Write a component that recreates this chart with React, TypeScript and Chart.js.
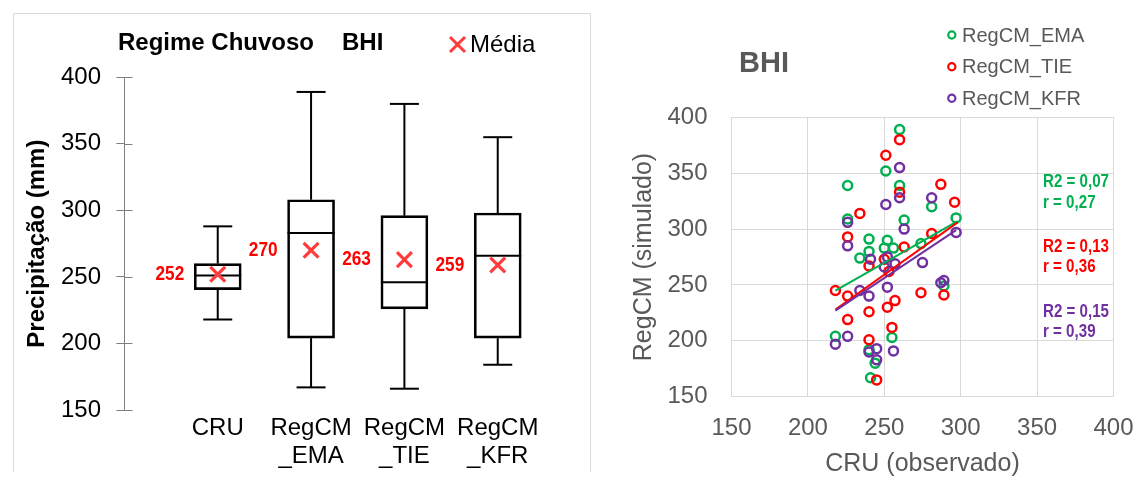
import React, { useEffect, useRef } from "react";
import { Chart, registerables } from "chart.js";

Chart.register(...registerables);

const FONT = "'Liberation Sans', Arial, Helvetica, sans-serif";

// ---------- Left panel: box plot ----------
const boxCategories: string[][] = [["CRU"], ["RegCM", "_EMA"], ["RegCM", "_TIE"], ["RegCM", "_KFR"]];
const boxPositions = [1, 2, 3, 4];
const boxMin = [218, 167, 166, 184];
const boxQ1 = [240.5, 204, 226, 204];
const boxMedian = [251, 283, 246, 266];
const boxQ3 = [260, 308, 296, 298];
const boxMax = [288, 389, 380, 355];
const boxMean = [252, 270, 263, 259];
const boxMeanLabels = ["252", "270", "263", "259"];
const leftTitle = "Regime Chuvoso";
const leftRegion = "BHI";
const leftLegendLabel = "Média";
const leftYTitle = "Precipitação (mm)";

// ---------- Right panel: scatter ----------
const seriesNames = ["RegCM_EMA", "RegCM_TIE", "RegCM_KFR"];
const seriesColors = ["#00B050", "#FF0000", "#7030A0"];

const emaCru = [218, 226, 226, 234, 240, 240, 240, 241, 244, 250, 251, 252, 255, 256, 260, 260, 263, 274, 281, 289, 297];
const emaSim = [204, 339, 309, 274, 291, 280, 192, 167, 180, 283, 352, 290, 203, 283, 389, 339, 308, 287, 320, 249, 310];

const tieCru = [218, 226, 226, 226, 234, 240, 240, 240, 245, 250, 251, 252, 253, 255, 257, 260, 260, 263, 274, 281, 287, 289, 296];
const tieSim = [245, 240, 219, 293, 314, 267, 226, 201, 165, 273, 366, 230, 262, 212, 236, 380, 333, 284, 243, 296, 340, 241, 324];

const kfrCru = [218, 226, 226, 226, 234, 241, 240, 240, 245, 245, 250, 251, 252, 252, 256, 257, 260, 260, 263, 275, 281, 287, 289, 297];
const kfrSim = [197, 306, 285, 204, 245, 273, 240, 190, 193, 183, 266, 322, 275, 248, 191, 269, 355, 328, 300, 270, 328, 252, 254, 297];

const emaTrendX = [218, 298];
const emaTrendY = [245, 307];
const tieTrendX = [218, 298];
const tieTrendY = [228, 306];
const kfrTrendX = [218, 297];
const kfrTrendY = [227, 299];

const statsLines = [
  ["R2 = 0,07", "r = 0,27"],
  ["R2 = 0,13", "r = 0,36"],
  ["R2 = 0,15", "r = 0,39"],
];
const rightTitle = "BHI";
const rightXTitle = "CRU (observado)";
const rightYTitle = "RegCM (simulado)";
const scatterTicks = { min: 150, max: 400, step: 50 };

const toPts = (xs: number[], ys: number[]) => xs.map((x, i) => ({ x, y: ys[i] }));

function drawText(
  ctx: CanvasRenderingContext2D,
  text: string,
  x: number,
  y: number,
  font: string,
  color: string,
  align: CanvasTextAlign,
  sx = 1
) {
  ctx.save();
  ctx.font = font;
  ctx.fillStyle = color;
  ctx.textBaseline = "middle";
  ctx.textAlign = align;
  ctx.translate(x, y);
  ctx.scale(sx, 1);
  ctx.fillText(text, 0, 0);
  ctx.restore();
}

function line(ctx: CanvasRenderingContext2D, x1: number, y1: number, x2: number, y2: number) {
  ctx.beginPath();
  ctx.moveTo(x1, y1);
  ctx.lineTo(x2, y2);
  ctx.stroke();
}

const BOX_HALF = 23.5;
const CAP_HALF = 14.5;
const MEAN_COLOR = "#FF3B3B";

const noPad = (s: any) => {
  s.paddingLeft = 0;
  s.paddingRight = 0;
};

const leftDecor = {
  id: "leftDecor",
  afterDatasetDraw(chart: any, args: any) {
    if (args.index !== 1) return;
    const ctx = chart.ctx as CanvasRenderingContext2D;
    const xs = chart.scales.x;
    const ys = chart.scales.y;
    ctx.save();
    ctx.strokeStyle = "#000";
    ctx.lineWidth = 2;
    boxPositions.forEach((p, i) => {
      const cx = xs.getPixelForValue(p);
      const yMin = ys.getPixelForValue(boxMin[i]);
      const yQ1 = ys.getPixelForValue(boxQ1[i]);
      const yMed = ys.getPixelForValue(boxMedian[i]);
      const yQ3 = ys.getPixelForValue(boxQ3[i]);
      const yMax = ys.getPixelForValue(boxMax[i]);
      line(ctx, cx, yMax, cx, yQ3);
      line(ctx, cx, yQ1, cx, yMin);
      line(ctx, cx - CAP_HALF, yMax, cx + CAP_HALF, yMax);
      line(ctx, cx - CAP_HALF, yMin, cx + CAP_HALF, yMin);
      line(ctx, cx - BOX_HALF, yMed, cx + BOX_HALF, yMed);
    });
    ctx.restore();
  },
  afterDraw(chart: any) {
    const ctx = chart.ctx as CanvasRenderingContext2D;
    const xs = chart.scales.x;
    const ys = chart.scales.y;
    // panel border
    ctx.save();
    ctx.strokeStyle = "#d9d9d9";
    ctx.lineWidth = 1;
    ctx.beginPath();
    ctx.moveTo(13.5, 472);
    ctx.lineTo(13.5, 13.5);
    ctx.lineTo(590.5, 13.5);
    ctx.lineTo(590.5, 472);
    ctx.stroke();
    // right half of crossing tick marks
    ctx.strokeStyle = "#7f7f7f";
    const ax = Math.round(ys.right) + 0.5;
    ys.ticks.forEach((t: any) => {
      const y = Math.round(ys.getPixelForValue(t.value)) + 0.5;
      line(ctx, ax, y, ax + 8, y);
    });
    ctx.restore();
    // mean labels
    boxPositions.forEach((p, i) => {
      const cx = xs.getPixelForValue(p);
      drawText(ctx, boxMeanLabels[i], cx - BOX_HALF - 10, ys.getPixelForValue(boxMean[i]), `bold 21px ${FONT}`, "#FF0000", "right", 0.82);
    });
    // title
    drawText(ctx, leftTitle, 118, 43, `bold 24px ${FONT}`, "#000", "left");
    drawText(ctx, leftRegion, 342, 43, `bold 24px ${FONT}`, "#000", "left");
    // legend
    ctx.save();
    ctx.strokeStyle = MEAN_COLOR;
    ctx.lineWidth = 3;
    const lx = 457.5, ly = 44.5, h = 7.5;
    line(ctx, lx - h, ly - h, lx + h, ly + h);
    line(ctx, lx - h, ly + h, lx + h, ly - h);
    ctx.restore();
    drawText(ctx, leftLegendLabel, 470, 45, `24px ${FONT}`, "#000", "left");
  },
};

const rightDecor = {
  id: "rightDecor",
  afterDraw(chart: any) {
    const ctx = chart.ctx as CanvasRenderingContext2D;
    drawText(ctx, rightTitle, 139, 64, `bold 29px ${FONT}`, "#595959", "left");
    const legendY = [35, 66.7, 98.3];
    seriesNames.forEach((name, i) => {
      ctx.save();
      ctx.strokeStyle = seriesColors[i];
      ctx.lineWidth = 2.2;
      ctx.beginPath();
      ctx.arc(351.8, legendY[i], 3.6, 0, Math.PI * 2);
      ctx.stroke();
      ctx.restore();
      drawText(ctx, name, 362, legendY[i] + 1, `20px ${FONT}`, "#595959", "left");
    });
    const statY = [
      [182.3, 203.3],
      [246.7, 267.3],
      [311.7, 331.7],
    ];
    statsLines.forEach((pair, i) => {
      pair.forEach((t, j) => {
        drawText(ctx, t, 443, statY[i][j], `bold 18px ${FONT}`, seriesColors[i], "left", 0.84);
      });
    });
  },
};

function leftConfig(): any {
  return {
    type: "bar",
    data: {
      datasets: [
        {
          type: "scatter",
          data: toPts(boxPositions, boxMean),
          pointStyle: "crossRot",
          pointRadius: 10.5,
          borderColor: MEAN_COLOR,
          backgroundColor: MEAN_COLOR,
          borderWidth: 3.2,
        },
        {
          type: "bar",
          data: boxPositions.map((p, i) => ({ x: p, y: [boxQ1[i], boxQ3[i]] })),
          backgroundColor: "rgba(255,255,255,0)",
          borderColor: "#000",
          borderWidth: 2,
          borderSkipped: false,
          barThickness: 47,
        },
      ],
    },
    options: {
      responsive: false,
      animation: false,
      devicePixelRatio: 1,
      layout: { padding: { left: 0, top: 77.3, right: 55.6, bottom: 0 } },
      plugins: { legend: { display: false }, tooltip: { enabled: false }, title: { display: false } },
      scales: {
        x: {
          type: "linear",
          offset: false,
          min: 0,
          max: 4.5,
          afterBuildTicks: (axis: any) => {
            axis.ticks = boxPositions.map((v) => ({ value: v }));
          },
          afterFit: (s: any) => {
            s.height = 67;
            noPad(s);
          },
          grid: { display: false, offset: false },
          border: { display: false },
          ticks: {
            autoSkip: false,
            maxRotation: 0,
            padding: -3.5,
            color: "#000",
            font: { family: FONT, size: 24, lineHeight: 1.15 },
            callback: (v: number) => boxCategories[boxPositions.indexOf(v)],
          },
        },
        y: {
          min: 150,
          max: 400,
          afterFit: (s: any) => {
            s.width = 124.4;
          },
          ticks: { stepSize: 50, padding: 15.4, color: "#000", font: { family: FONT, size: 24 } },
          grid: { drawOnChartArea: false, drawTicks: true, tickLength: 8, color: "#7f7f7f" },
          border: { display: true, color: "#7f7f7f", width: 1 },
          title: {
            display: true,
            text: leftYTitle,
            color: "#000",
            font: { family: FONT, size: 24, weight: "bold", lineHeight: 1 },
            padding: { top: 25, bottom: 0 },
          },
        },
      },
    },
    plugins: [leftDecor],
  };
}

function rightConfig(): any {
  const pointDs = (label: string, xs: number[], ys: number[], color: string) => ({
    type: "scatter",
    label,
    data: toPts(xs, ys),
    borderColor: color,
    backgroundColor: "rgba(0,0,0,0)",
    pointRadius: 4.5,
    borderWidth: 2.5,
    pointStyle: "circle",
  });
  const trendDs = (xs: number[], ys: number[], color: string) => ({
    type: "line",
    data: toPts(xs, ys),
    borderColor: color,
    borderWidth: 2,
    pointRadius: 0,
    fill: false,
    showLine: true,
  });
  return {
    type: "scatter",
    data: {
      datasets: [
        trendDs(kfrTrendX, kfrTrendY, seriesColors[2]),
        trendDs(tieTrendX, tieTrendY, seriesColors[1]),
        trendDs(emaTrendX, emaTrendY, seriesColors[0]),
        pointDs(seriesNames[2], kfrCru, kfrSim, seriesColors[2]),
        pointDs(seriesNames[1], tieCru, tieSim, seriesColors[1]),
        pointDs(seriesNames[0], emaCru, emaSim, seriesColors[0]),
      ],
    },
    options: {
      responsive: false,
      animation: false,
      devicePixelRatio: 1,
      layout: { padding: { left: 0, top: 117.3, right: 30.5, bottom: 0 } },
      plugins: { legend: { display: false }, tooltip: { enabled: false }, title: { display: false } },
      scales: {
        x: {
          type: "linear",
          min: scatterTicks.min,
          max: scatterTicks.max,
          afterFit: (s: any) => {
            s.height = 80.3;
            noPad(s);
          },
          ticks: { stepSize: scatterTicks.step, padding: 17, color: "#595959", font: { family: FONT, size: 24 } },
          grid: { color: "#d9d9d9", drawTicks: false },
          border: { color: "#d9d9d9" },
          title: {
            display: true,
            text: rightXTitle,
            color: "#595959",
            font: { family: FONT, size: 25, lineHeight: 1 },
            padding: { top: 0, bottom: 0 },
          },
        },
        y: {
          type: "linear",
          min: scatterTicks.min,
          max: scatterTicks.max,
          afterFit: (s: any) => {
            s.width = 131.5;
          },
          ticks: { stepSize: scatterTicks.step, padding: 24, color: "#595959", font: { family: FONT, size: 24 } },
          grid: { color: "#d9d9d9", drawTicks: false },
          border: { color: "#d9d9d9" },
          title: {
            display: true,
            text: rightYTitle,
            color: "#595959",
            font: { family: FONT, size: 25, lineHeight: 1 },
            padding: { top: 32, bottom: 0 },
          },
        },
      },
    },
    plugins: [rightDecor],
  };
}

export default function App() {
  const leftRef = useRef<HTMLCanvasElement>(null);
  const rightRef = useRef<HTMLCanvasElement>(null);
  useEffect(() => {
    const left = new Chart(leftRef.current as HTMLCanvasElement, leftConfig());
    const right = new Chart(rightRef.current as HTMLCanvasElement, rightConfig());
    return () => {
      left.destroy();
      right.destroy();
    };
  }, []);
  return (
    <div style={{ position: "absolute", left: 0, top: 0, width: 1144, height: 477, background: "#fff", overflow: "hidden" }}>
      <canvas ref={leftRef} width={600} height={477} style={{ position: "absolute", left: 0, top: 0, width: 600, height: 477 }} />
      <canvas ref={rightRef} width={544} height={477} style={{ position: "absolute", left: 600, top: 0, width: 544, height: 477 }} />
    </div>
  );
}
